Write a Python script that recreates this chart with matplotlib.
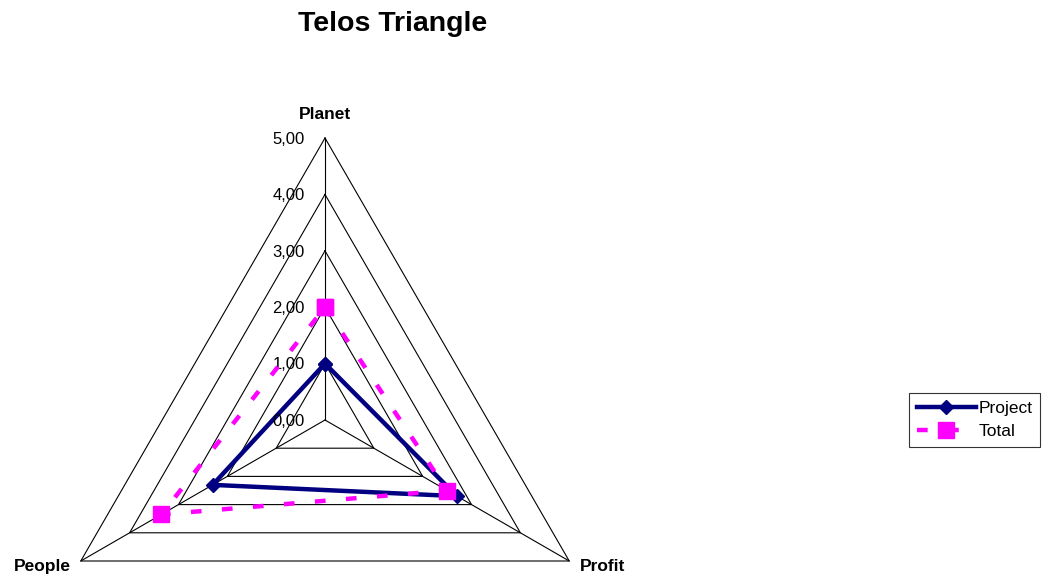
import numpy as np
import matplotlib
matplotlib.use("Agg")
import matplotlib.pyplot as plt

categories = ["Planet", "Profit", "People"]
project = [1.0, 2.7, 2.3]
total = [2.0, 2.5, 3.35]
levels = [1, 2, 3, 4, 5]
tick_values = [0, 1, 2, 3, 4, 5]
tick_labels = ["0,00", "1,00", "2,00", "3,00", "4,00", "5,00"]

plt.rcParams['font.family'] = ['Liberation Sans', 'DejaVu Sans']

W, H = 1050, 578
fig = plt.figure(figsize=(W / 100, H / 100), dpi=100)
cx, cy, R = 325, 420, 282
ax = fig.add_axes([(cx - R) / W, (H - cy - R) / H, 2 * R / W, 2 * R / H], projection='polar')
ax.set_theta_offset(np.pi / 2)
ax.set_theta_direction(-1)
ax.set_ylim(0, 5)
ax.set_xticks([])
ax.set_yticks([])
ax.grid(False)
ax.spines['polar'].set_visible(False)
ax.patch.set_visible(False)

n = len(categories)
theta = np.linspace(0, 2 * np.pi, n, endpoint=False)
theta_c = np.append(theta, theta[0])

for lv in levels:
    ax.plot(theta_c, [lv] * (n + 1), color='black', lw=0.8, clip_on=False, zorder=1)
for t in theta:
    ax.plot([t, t], [0, 5], color='black', lw=0.8, clip_on=False, zorder=1)

ax.plot(theta_c, project + [project[0]], color='#000080', lw=3.2, marker='D', ms=7.5,
        clip_on=False, zorder=3, label='Project')
ax.plot(theta_c, total + [total[0]], color='#FF00FF', lw=3.2, linestyle=(0, (2.4, 4.6)),
        dash_capstyle='butt', marker='s', ms=12, clip_on=False, zorder=4, label='Total')

for v, lab in zip(tick_values, tick_labels):
    ax.annotate(lab, xy=(0, v), xytext=(-14.5, -1), textcoords='offset points',
                ha='right', va='center', fontsize=12, annotation_clip=False)

offsets = {"Planet": ((0, 17), 'center'), "Profit": ((8, -4), 'left'), "People": ((-7, -4), 'right')}
for t, c in zip(theta, categories):
    off, ha = offsets[c]
    ax.annotate(c, xy=(t, 5), xytext=off, textcoords='offset points', ha=ha, va='center',
                fontsize=12.5, fontweight='bold', annotation_clip=False)

fig.text(393 / W, 1 - 24 / H, "Telos Triangle", ha='center', va='center', fontsize=20.5, fontweight='bold')

leg = fig.legend(loc='upper left', bbox_to_anchor=(909 / W, 1 - 393 / H), fontsize=12.5,
                 frameon=True, fancybox=False, edgecolor='black', borderaxespad=0,
                 handlelength=3.4, handletextpad=0.15, borderpad=0.45, labelspacing=0.46)
leg.get_frame().set_linewidth(0.8)

fig.savefig("out.png", dpi=100)
